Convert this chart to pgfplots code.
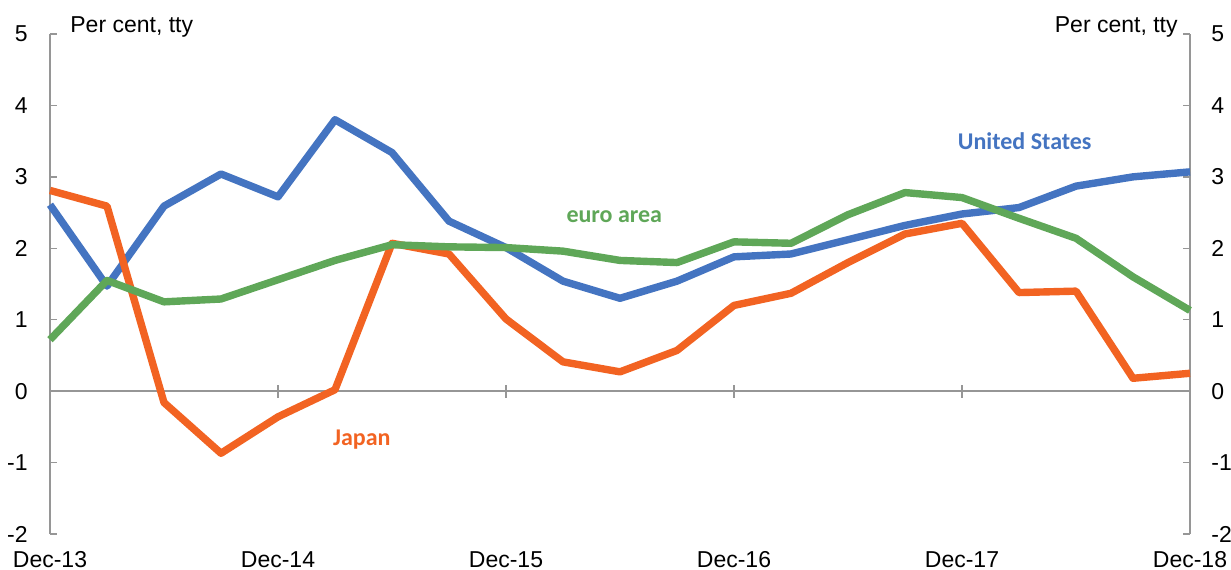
\documentclass[border=0pt]{standalone}
\usepackage{fontspec}
\setmainfont{Liberation Sans}
\newfontfamily\labfont{Carlito}
\usepackage{pgfplots}
\pgfplotsset{compat=1.18}
\definecolor{usblue}{RGB}{68,116,193}
\definecolor{jporange}{RGB}{242,99,34}
\definecolor{eagreen}{RGB}{95,167,88}
\definecolor{axgray}{RGB}{150,150,150}

\pgfplotstableread{
idx us jp ea
0  2.61  2.81 0.72
1  1.47  2.59 1.55
2  2.59 -0.16 1.25
3  3.04 -0.87 1.29
4  2.72 -0.36 1.56
5  3.80  0.02 1.83
6  3.34  2.07 2.05
7  2.38  1.92 2.02
8  2.01  1.01 2.01
9  1.54  0.41 1.96
10 1.30  0.27 1.83
11 1.54  0.57 1.80
12 1.88  1.20 2.09
13 1.92  1.37 2.07
14 2.12  1.80 2.47
15 2.32  2.20 2.78
16 2.48  2.35 2.71
17 2.57  1.38 2.42
18 2.87  1.40 2.14
19 3.00  0.18 1.60
20 3.07  0.25 1.13
}\datatable

\begin{document}
\begin{tikzpicture}
\pgfplotsset{
  common/.style={
    scale only axis, width=570pt, height=250pt,
    xmin=0, xmax=20, ymin=-2, ymax=5,
    ytick={-2,-1,0,1,2,3,4,5},
    yticklabels={-2,-1,0,1,2,3,4,5},
    tick label style={font=\fontsize{11.5}{13}\selectfont},
    /pgf/number format/assume math mode=true,
    clip=false,
  }
}
\begin{axis}[
  common,
  separate axis lines,
  x axis line style={draw=none},
  y axis line style={-, draw=axgray, line width=0.75pt},
  xtick={0,4,8,12,16,20},
  xticklabels={Dec-13,Dec-14,Dec-15,Dec-16,Dec-17,Dec-18},
  x tick style={draw=none},
  y tick style={draw=axgray, line width=0.75pt},
  tick align=inside,
  major tick length=3.5pt,
  xticklabel pos=bottom,
  yticklabel pos=left,
  xticklabel style={anchor=base, inner sep=0pt, yshift=-17pt},
  yticklabel style={anchor=east, inner sep=0pt, xshift=-11pt},
]
\coordinate (BL) at (rel axis cs:0,0);
\coordinate (TR) at (rel axis cs:1,1);
\draw[axgray, line width=0.75pt] (axis cs:0,0) -- (axis cs:20,0);
\pgfplotsinvokeforeach{4,8,12,16}{
  \draw[axgray, line width=0.75pt] ([yshift=-3.2pt]axis cs:#1,0) -- ([yshift=3.2pt]axis cs:#1,0);
}
\addplot[usblue, line width=3.7pt, line join=round] table[x=idx, y=us] {\datatable};
\addplot[jporange, line width=3.7pt, line join=round] table[x=idx, y=jp] {\datatable};
\addplot[eagreen, line width=3.7pt, line join=round] table[x=idx, y=ea] {\datatable};
\node[anchor=base, text=usblue, font=\labfont\bfseries\fontsize{12}{14}\selectfont] at (axis cs:17.1,3.38) {United States};
\node[anchor=base, text=eagreen, font=\labfont\bfseries\fontsize{12}{14}\selectfont] at (axis cs:9.9,2.355) {euro area};
\node[anchor=base, text=jporange, font=\labfont\bfseries\fontsize{12}{14}\selectfont] at (axis cs:5.47,-0.756) {Japan};
\node[anchor=base west, inner sep=0pt, font=\fontsize{11.5}{13}\selectfont] at ([xshift=10pt, yshift=0.7pt]rel axis cs:0,1) {Per cent, tty};
\node[anchor=base east, inner sep=0pt, font=\fontsize{11.5}{13}\selectfont] at ([xshift=-6pt, yshift=0.7pt]rel axis cs:1,1) {Per cent, tty};
\end{axis}
\begin{axis}[
  common,
  axis line style={draw=none},
  xtick=\empty,
  major tick length=0pt,
  y tick style={draw=none},
  yticklabel pos=right,
  yticklabel style={anchor=west, inner sep=0pt, xshift=10.5pt},
]
\end{axis}
\pgfresetboundingbox
\path[use as bounding box] ([xshift=-25pt, yshift=-18pt]BL) rectangle ([xshift=20.5pt, yshift=17pt]TR);
\end{tikzpicture}
\end{document}
